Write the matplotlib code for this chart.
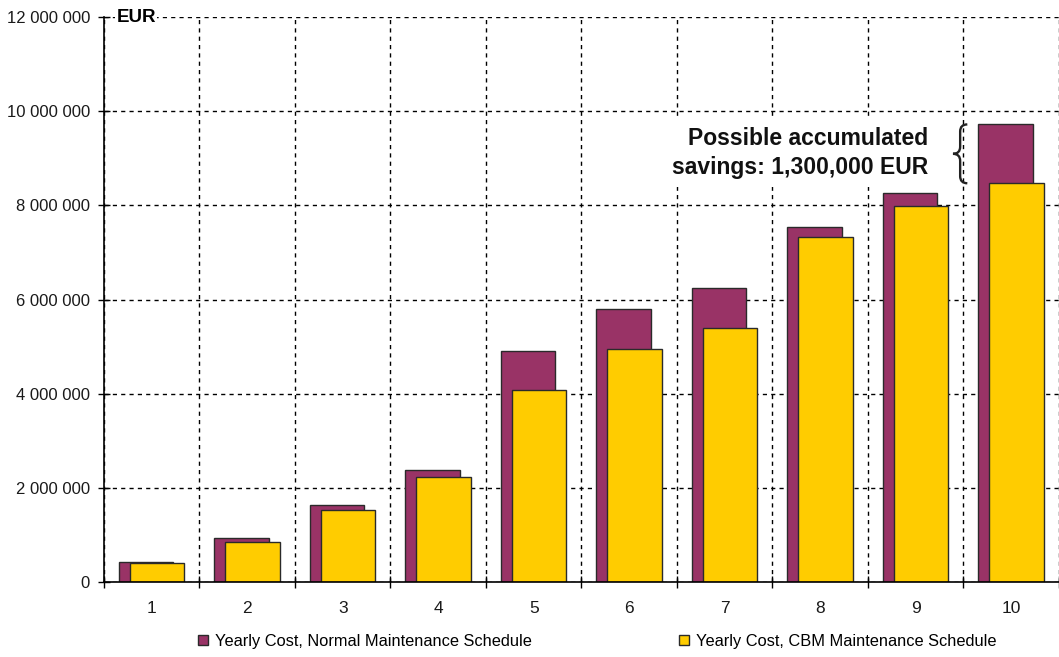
import matplotlib.pyplot as plt
import matplotlib.transforms as mtransforms
from matplotlib.path import Path
from matplotlib.patches import PathPatch, Patch
import numpy as np

years = [1, 2, 3, 4, 5, 6, 7, 8, 9, 10]
normal_cost = [420000, 930000, 1640000, 2380000, 4900000, 5800000, 6240000, 7540000, 8260000, 9720000]
cbm_cost = [400000, 850000, 1530000, 2230000, 4080000, 4950000, 5390000, 7320000, 7980000, 8470000]
y_ticks = [0, 2000000, 4000000, 6000000, 8000000, 10000000, 12000000]

plt.rcParams['font.family'] = ['Liberation Sans', 'DejaVu Sans']

fig = plt.figure(figsize=(10.59, 6.57), dpi=100)
ax = fig.add_axes([0.0982, 0.1142, 0.9018, 0.8598])

x = np.arange(len(years))
bar_w = 0.57

# Normal schedule bars behind, CBM bars shifted right on top
ax.bar(x - 0.06, normal_cost, bar_w, color='#993366', edgecolor='#2a2a2a', linewidth=1, zorder=3)
ax.bar(x + 0.055, cbm_cost, bar_w, color='#FFCC00', edgecolor='#2a2a2a', linewidth=1, zorder=4)

ax.set_xlim(-0.5, len(years) - 0.5)
ax.set_ylim(0, 12000000)
ax.set_yticks(y_ticks)
ax.set_yticklabels([f'{v:,.0f}'.replace(',', ' ') for v in y_ticks], fontsize=12, color='#1a1a1a')
ax.set_xticks(x)
ax.set_xticklabels([str(y) for y in years], fontsize=12.5, color='#1a1a1a')
ax.set_xticks(np.arange(-0.5, len(years)), minor=True)

ax.tick_params(axis='x', which='major', length=0, pad=14)
ax.tick_params(axis='x', which='minor', direction='inout', length=8, width=1)
ax.tick_params(axis='y', direction='inout', length=8, width=1, pad=6)

ax.yaxis.grid(True, color='black', linestyle=(0, (3, 3)), linewidth=1, zorder=1)
ax.xaxis.grid(True, which='minor', color='black', linestyle=(0, (3, 3)), linewidth=1, zorder=1)
ax.set_axisbelow(True)

for s in ['top', 'right']:
    ax.spines[s].set_visible(False)
for s in ['left', 'bottom']:
    ax.spines[s].set_linewidth(1.2)
    ax.spines[s].set_zorder(5)

# Unit label
trans = mtransforms.blended_transform_factory(ax.transAxes, ax.transData)
ax.text(0.013, 12000000, 'EUR', fontsize=13.5, fontweight='bold', ha='left', va='center',
        transform=trans, bbox=dict(facecolor='white', edgecolor='none', pad=1), zorder=6)

# Savings annotation (white box hides the grid behind it)
ax.text(8.13, 9110000, 'Possible accumulated\nsavings: 1,300,000 EUR', fontsize=16.5, fontweight='bold',
        ha='right', va='center', linespacing=1.3, color='#111111', zorder=6,
        bbox=dict(facecolor='white', edgecolor='none', pad=6))

# Curly brace between the two last bars
y1, y2 = normal_cost[-1], cbm_cost[-1]
ym = (y1 + y2) / 2
xr, xl = 8.54, 8.39
xm = (xr + xl) / 2
d = (y1 - y2) * 0.12
verts = [(xr, y1), (xm, y1), (xm, y1 - d),
         (xm, ym + d), (xm, ym), (xl, ym),
         (xm, ym), (xm, ym - d),
         (xm, y2 + d), (xm, y2), (xr, y2)]
codes = [Path.MOVETO, Path.CURVE3, Path.CURVE3,
         Path.LINETO, Path.CURVE3, Path.CURVE3,
         Path.CURVE3, Path.CURVE3,
         Path.LINETO, Path.CURVE3, Path.CURVE3]
ax.add_patch(PathPatch(Path(verts, codes), facecolor='none', edgecolor='#222222', linewidth=1.7,
                       zorder=6, clip_on=False))

handles = [Patch(facecolor='#993366', edgecolor='#2a2a2a', label='Yearly Cost, Normal Maintenance Schedule'),
           Patch(facecolor='#FFCC00', edgecolor='#2a2a2a', label='Yearly Cost, CBM Maintenance Schedule')]
fig.legend(handles=handles, loc='center', bbox_to_anchor=(0.564, 0.024), ncol=2, frameon=False,
           fontsize=11.8, handlelength=0.6, handleheight=0.6, handletextpad=0.4, columnspacing=9.0)

fig.savefig('out.png', dpi=100)
